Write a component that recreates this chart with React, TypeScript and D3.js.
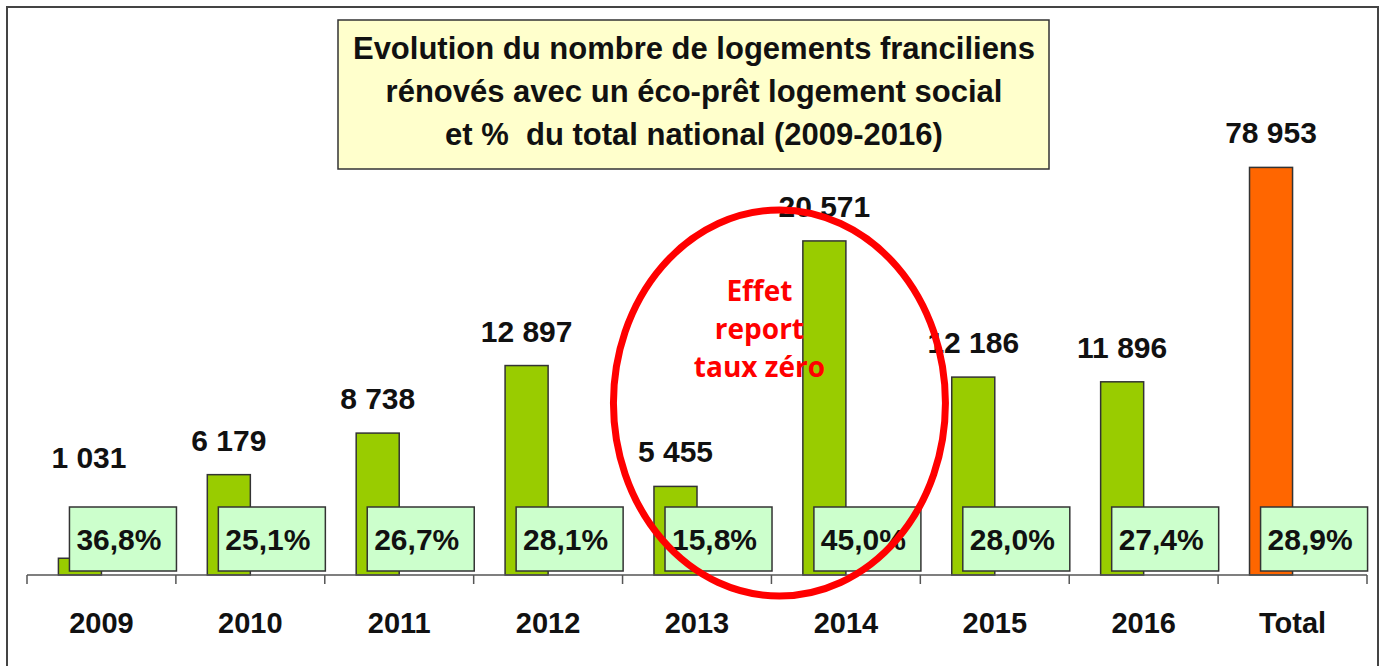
import React from "react";
import * as d3 from "d3";

const categories = ["2009", "2010", "2011", "2012", "2013", "2014", "2015", "2016", "Total"];
const logements = [1031, 6179, 8738, 12897, 5455, 20571, 12186, 11896, 78953];
const valueLabels = ["1 031", "6 179", "8 738", "12 897", "5 455", "20 571", "12 186", "11 896", "78 953"];
const shares = ["36,8%", "25,1%", "26,7%", "28,1%", "15,8%", "45,0%", "28,0%", "27,4%", "28,9%"];
const titleLines = [
  "Evolution du nombre de logements franciliens",
  "rénovés avec un éco-prêt logement social",
  "et %  du total national (2009-2016)",
];
const noteLines = ["Effet", "report", "taux zéro"];

const W = 1386;
const H = 666;
const FONT = "'Liberation Sans', Arial, sans-serif";

export default function App() {
  const x = d3.scaleBand<string>().domain(categories).range([27, 1367]).paddingInner(0).paddingOuter(0);
  const sub = d3.scaleBand<string>().domain(["n", "p"]).range([0, x.bandwidth()]).paddingInner(0).paddingOuter(0.73);
  const baseY = 575;
  const yYears = d3.scaleLinear().domain([0, 25000]).range([baseY, baseY - 406]);
  const yTotal = d3.scaleLinear().domain([0, 80000]).range([baseY, baseY - 413]);
  const boxH = 64;
  const boxW = 107;
  const boxTop = baseY - 4 - boxH;

  const noteX = (x("2014") as number) - 12;
  const ellCx = (x("2014") as number) + 8;

  return (
    <svg width={W} height={H} style={{ position: "absolute", left: 0, top: 0, background: "#fff" }}>
      <rect x={7} y={7} width={1371} height={720} fill="#fff" stroke="#444" strokeWidth={2} />
      {/* title */}
      <rect x={338} y={20} width={711} height={149} fill="#FFFFCC" stroke="#333" strokeWidth={1.5} />
      {titleLines.map((t, i) => (
        <text key={i} x={694} y={59 + i * 43} textAnchor="middle" fontFamily={FONT} fontWeight="bold" fontSize={31}
          fill="#111" style={{ whiteSpace: "pre" }}>
          {t}
        </text>
      ))}
      {/* bars */}
      {categories.map((c, i) => {
        const isTotal = c === "Total";
        const y = isTotal ? yTotal : yYears;
        const bx = (x(c) as number) + (sub("n") as number);
        const top = y(logements[i]);
        return (
          <rect key={c} x={bx} y={top} width={sub.bandwidth()} height={baseY - top}
            fill={isTotal ? "#FF6600" : "#99CC00"} stroke="#333" strokeWidth={1.5} />
        );
      })}
      {/* axis */}
      <line x1={27} x2={1367} y1={baseY} y2={baseY} stroke="#555" strokeWidth={1.5} />
      {categories.map((c) => (
        <line key={"t" + c} x1={x(c) as number} x2={x(c) as number} y1={baseY} y2={baseY + 9} stroke="#555" strokeWidth={1.5} />
      ))}
      <line x1={1367} x2={1367} y1={baseY} y2={baseY + 9} stroke="#555" strokeWidth={1.5} />
      {categories.map((c) => (
        <text key={"c" + c} x={(x(c) as number) + x.bandwidth() / 2} y={633} textAnchor="middle"
          fontFamily={FONT} fontWeight="bold" fontSize={29} fill="#111">{c}</text>
      ))}
      {/* value labels */}
      {categories.map((c, i) => {
        const isTotal = c === "Total";
        const y = isTotal ? yTotal : yYears;
        const cx = (x(c) as number) + (sub("n") as number) + sub.bandwidth() / 2;
        const ly = Math.min(y(logements[i]) - 24, boxTop - 39);
        const lx = i === 0 ? cx + 9 : cx;
        return (
          <text key={"v" + c} x={lx} y={ly} textAnchor="middle" fontFamily={FONT} fontWeight="bold" fontSize={30} fill="#111">
            {valueLabels[i]}
          </text>
        );
      })}
      {/* percent boxes */}
      {categories.map((c, i) => {
        const cx = (x(c) as number) + (sub("p") as number) + sub.bandwidth() / 2;
        return (
          <g key={"p" + c}>
            <rect x={cx - boxW / 2} y={boxTop} width={boxW} height={boxH} fill="#CCFFCC" stroke="#333" strokeWidth={1.5} />
            <text x={cx - 4} y={boxTop + boxH / 2 + 10.5} textAnchor="middle" fontFamily={FONT} fontWeight="bold" fontSize={30} fill="#111">
              {shares[i]}
            </text>
          </g>
        );
      })}
      {/* annotation */}
      <ellipse cx={ellCx} cy={403} rx={166} ry={193} fill="none" stroke="#FF0000" strokeWidth={7} />
      {noteLines.map((t, i) => (
        <text key={"n" + i} x={noteX} y={301 + i * 38} textAnchor="middle" fontFamily="'Open Sans', sans-serif"
          fontWeight="bold" fontSize={28} fill="#FF0000">{t}</text>
      ))}
    </svg>
  );
}
